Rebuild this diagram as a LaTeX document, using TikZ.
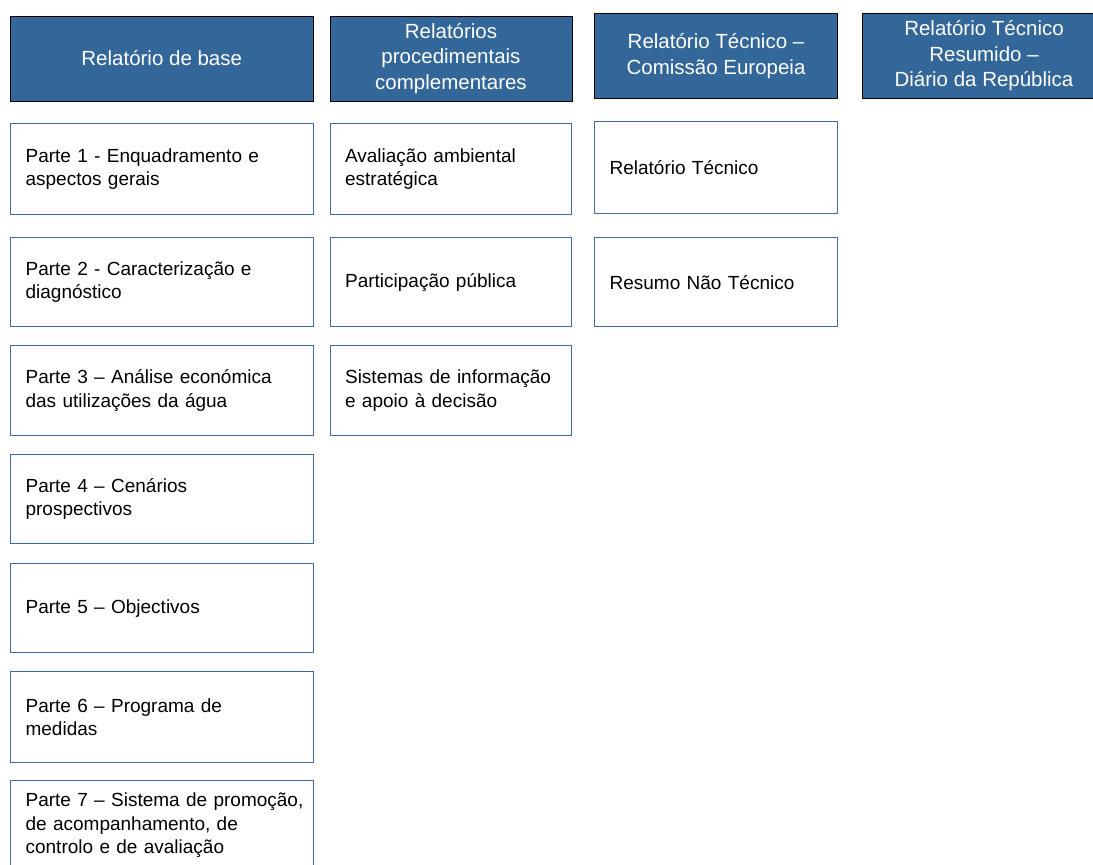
\documentclass[tikz,border=0pt]{standalone}
\usepackage{fontspec}
\setmainfont{Liberation Sans}
\hyphenpenalty=10000
\exhyphenpenalty=10000
\definecolor{headblue}{RGB}{51,102,153}
\definecolor{edgeblue}{RGB}{66,106,162}
\tikzset{
  head/.style={draw=black, line width=1pt, fill=headblue, text=white,
    anchor=north west, align=center, minimum height=85pt, inner sep=0pt,
    font=\fontsize{20.5}{25.5}\selectfont},
  part/.style={draw=edgeblue, line width=1.2pt, fill=white, anchor=north west,
    align=left, text width=#1, minimum height=90pt, inner xsep=15pt,
    inner ysep=0pt, font=\fontsize{19}{23.5}\selectfont},
}
\begin{document}
\begin{tikzpicture}[x=1pt, y=-1pt]
      \useasboundingbox (0,0) rectangle (1093,865);
      \clip (0,0) rectangle (1093,865);
      % column heads
      \path
        (9.5,15.5) node[head, minimum width=303.5pt] (base) {Relatório de base}
        (329.5,15.5) node[head, minimum width=242pt] (proc) {Relatórios\\procedimentais\\complementares}
        (594,13) node[head, minimum width=243pt] (ce) {Relatório Técnico –\\Comissão Europeia}
        (862,13) node[head, minimum width=243pt] (dr) {Relatório Técnico\\Resumido –\\Diário da República};
      % relatorio de base
      \path
        (10,123) node[part=272.5pt, minimum height=91pt] (b1) {Parte 1 - Enquadramento e\\aspectos gerais}
        (10,237) node[part=272.5pt, minimum height=89pt] (b2) {Parte 2 - Caracterização e\\diagnóstico}
        (10,345) node[part=272.5pt] (b3) {Parte 3 – Análise económica\\das utilizações da água}
        (10,454) node[part=272.5pt, minimum height=89pt] (b4) {Parte 4 – Cenários\\prospectivos}
        (10,563) node[part=272.5pt, minimum height=89pt] (b5) {Parte 5 – Objectivos}
        (10,671) node[part=272.5pt, minimum height=91pt] (b6) {Parte 6 – Programa de\\medidas}
        (10,780) node[part=272.5pt] (b7) {\mbox{Parte 7 – Sistema de promoção,}\\de acompanhamento, de\\controlo e de avaliação};
      % relatorios procedimentais
      \path
        (329.5,123) node[part=211.5pt, minimum height=91pt] (p1) {Avaliação ambiental\\estratégica}
        (329.5,237) node[part=211.5pt, minimum height=89pt] (p2) {Participação pública}
        (329.5,345) node[part=211.5pt] (p3) {Sistemas de informação\\e apoio à decisão};
      % comissao europeia
      \path
        (594,121) node[part=213pt, minimum height=92pt] (c1) {Relatório Técnico}
        (594,237) node[part=213pt, minimum height=89pt] (c2) {Resumo Não Técnico};
    \end{tikzpicture}
\end{document}
